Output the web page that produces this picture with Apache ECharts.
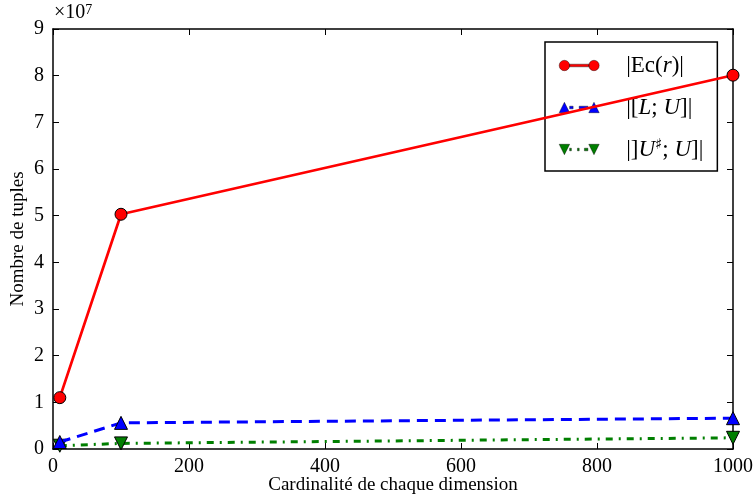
<!DOCTYPE html>
<html><head><meta charset="utf-8">
<script src="https://cdn.jsdelivr.net/npm/echarts@6/dist/echarts.min.js"></script>
<style>html,body{margin:0;padding:0;background:#fff}#c{width:755px;height:496px}</style>
</head><body><div id="c"></div>
<script>
var xValues = [10, 100, 1000];
var ecValues = [11000000, 50300000, 80100000];
var luValues = [1500000, 5600000, 6600000];
var uuValues = [700000, 1200000, 2400000];
var yTicks = [0,1,2,3,4,5,6,7,8,9];
var xTicks = [0,200,400,600,800,1000];

function pairs(vals){ return xValues.map(function(x,i){return [x, vals[i]];}); }

var F = 'Liberation Serif';
var chart = echarts.init(document.getElementById('c'));
var legendText = {
  'Ec': '|Ec({i|r})|',
  'LU': '|[{i|L}; {i|U}]|',
  'UU': '|]{i|U}{sup|♯}; {i|U}]|'
};
function icon(kind){
  var c = 'M0,7 a6,6 0 1,0 12,0 a6,6 0 1,0 -12,0 Z M34,7 a6,6 0 1,0 12,0 a6,6 0 1,0 -12,0 Z ';
  var up = 'M0,13 L6,1 L12,13 Z M34,13 L40,1 L46,13 Z ';
  var dn = 'M0,1 L6,13 L12,1 Z M34,1 L40,13 L46,1 Z ';
  if(kind==='Ec') return 'path://' + c + 'M12,5.5 H34 V8.5 H12 Z';
  if(kind==='LU') return 'path://' + up + 'M12,5.5 H16 V8.5 H12 Z M23,5.5 H33 V8.5 H23 Z';
  return 'path://' + dn + 'M12,5.5 H14 V8.5 H12 Z M21,5.5 H23 V8.5 H21 Z M29,5.5 H33 V8.5 H29 Z';
}
function xAxisDef(pos, extra){
  return Object.assign({
    type: 'value', position: pos, min: 0, max: 1000, interval: 200,
    axisLine: {show: true, onZero: false, lineStyle: {color: '#000', width: 1.5}},
    axisTick: {show: true, inside: true, length: 6, lineStyle: {color: '#000', width: 1}},
    splitLine: {show: false}
  }, extra);
}
function yAxisDef(pos, extra){
  return Object.assign({
    type: 'value', position: pos, min: 0, max: 90000000, interval: 10000000,
    axisLine: {show: true, onZero: false, lineStyle: {color: '#000', width: 1.5}},
    axisTick: {show: true, inside: true, length: 6, lineStyle: {color: '#000', width: 1}},
    splitLine: {show: false}
  }, extra);
}
chart.setOption({
  animation: false,
  backgroundColor: '#fff',
  grid: {left: 53, right: 22, top: 29, bottom: 47, containLabel: false, outerBoundsMode: 'none'},
  graphic: [{
    type: 'text', left: 54, top: 3,
    style: {text: '×10{sup|7}', fill: '#000', font: '20px "' + F + '"',
      rich: {sup: {fontSize: 14, fontFamily: F, verticalAlign: 'top', fill: '#000'}}}
  }],
  xAxis: [
    xAxisDef('bottom', {
      name: 'Cardinalité de chaque dimension', nameLocation: 'middle', nameGap: 27,
      nameMoveOverlap: false,
      nameTextStyle: {fontFamily: F, fontSize: 19, color: '#000'},
      axisLabel: {fontFamily: F, fontSize: 20, color: '#000', margin: 8,
        customValues: xTicks, formatter: function(v){return String(v);}}
    }),
    xAxisDef('top', {axisLabel: {show: false}})
  ],
  yAxis: [
    yAxisDef('left', {
      name: 'Nombre de tuples', nameLocation: 'middle', nameGap: 25,
      nameMoveOverlap: false,
      nameTextStyle: {fontFamily: F, fontSize: 19, color: '#000'},
      axisLabel: {fontFamily: F, fontSize: 20, color: '#000', margin: 9,
        formatter: function(v){ return String(yTicks[Math.round(v/10000000)]); }}
    }),
    yAxisDef('right', {axisLabel: {show: false}})
  ],
  legend: {
    orient: 'vertical', left: 545, top: 42, width: 176,
    backgroundColor: '#fff', borderColor: '#000', borderWidth: 1.5, borderRadius: 0,
    padding: [12, 14, 10, 14], itemGap: 19, itemWidth: 40, itemHeight: 14,
    textStyle: {fontFamily: F, fontSize: 23, color: '#000', padding: [0, 0, 0, 22],
      rich: {
        i: {fontStyle: 'italic', fontFamily: F, fontSize: 23, color: '#000'},
        sup: {fontFamily: 'DejaVu Sans', fontSize: 15, color: '#000', verticalAlign: 'top'}
      }},
    formatter: function(n){ return legendText[n]; },
    data: [
      {name: 'Ec', icon: icon('Ec'), itemStyle: {color: '#ff0000', borderColor: '#000', borderWidth: 0.4}},
      {name: 'LU', icon: icon('LU'), itemStyle: {color: '#0000ff', borderColor: '#000', borderWidth: 0.4}},
      {name: 'UU', icon: icon('UU'), itemStyle: {color: '#007f00', borderColor: '#000', borderWidth: 0.4}}
    ]
  },
  series: [
    {name: 'Ec', type: 'line', data: pairs(ecValues), symbol: 'circle', symbolSize: 12,
      lineStyle: {color: '#ff0000', width: 2.7},
      itemStyle: {color: '#ff0000', borderColor: '#000', borderWidth: 1}, z: 5},
    {name: 'LU', type: 'line', data: pairs(luValues), symbol: 'triangle', symbolSize: 13,
      lineStyle: {color: '#0000ff', width: 3, type: [11, 7]},
      itemStyle: {color: '#0000ff', borderColor: '#000', borderWidth: 1}, z: 4},
    {name: 'UU', type: 'line', data: pairs(uuValues), symbol: 'triangle', symbolRotate: 180, symbolSize: 13,
      lineStyle: {color: '#007f00', width: 3, type: [7, 6, 2, 6]},
      itemStyle: {color: '#007f00', borderColor: '#000', borderWidth: 1}, z: 3}
  ]
});
</script></body></html>
